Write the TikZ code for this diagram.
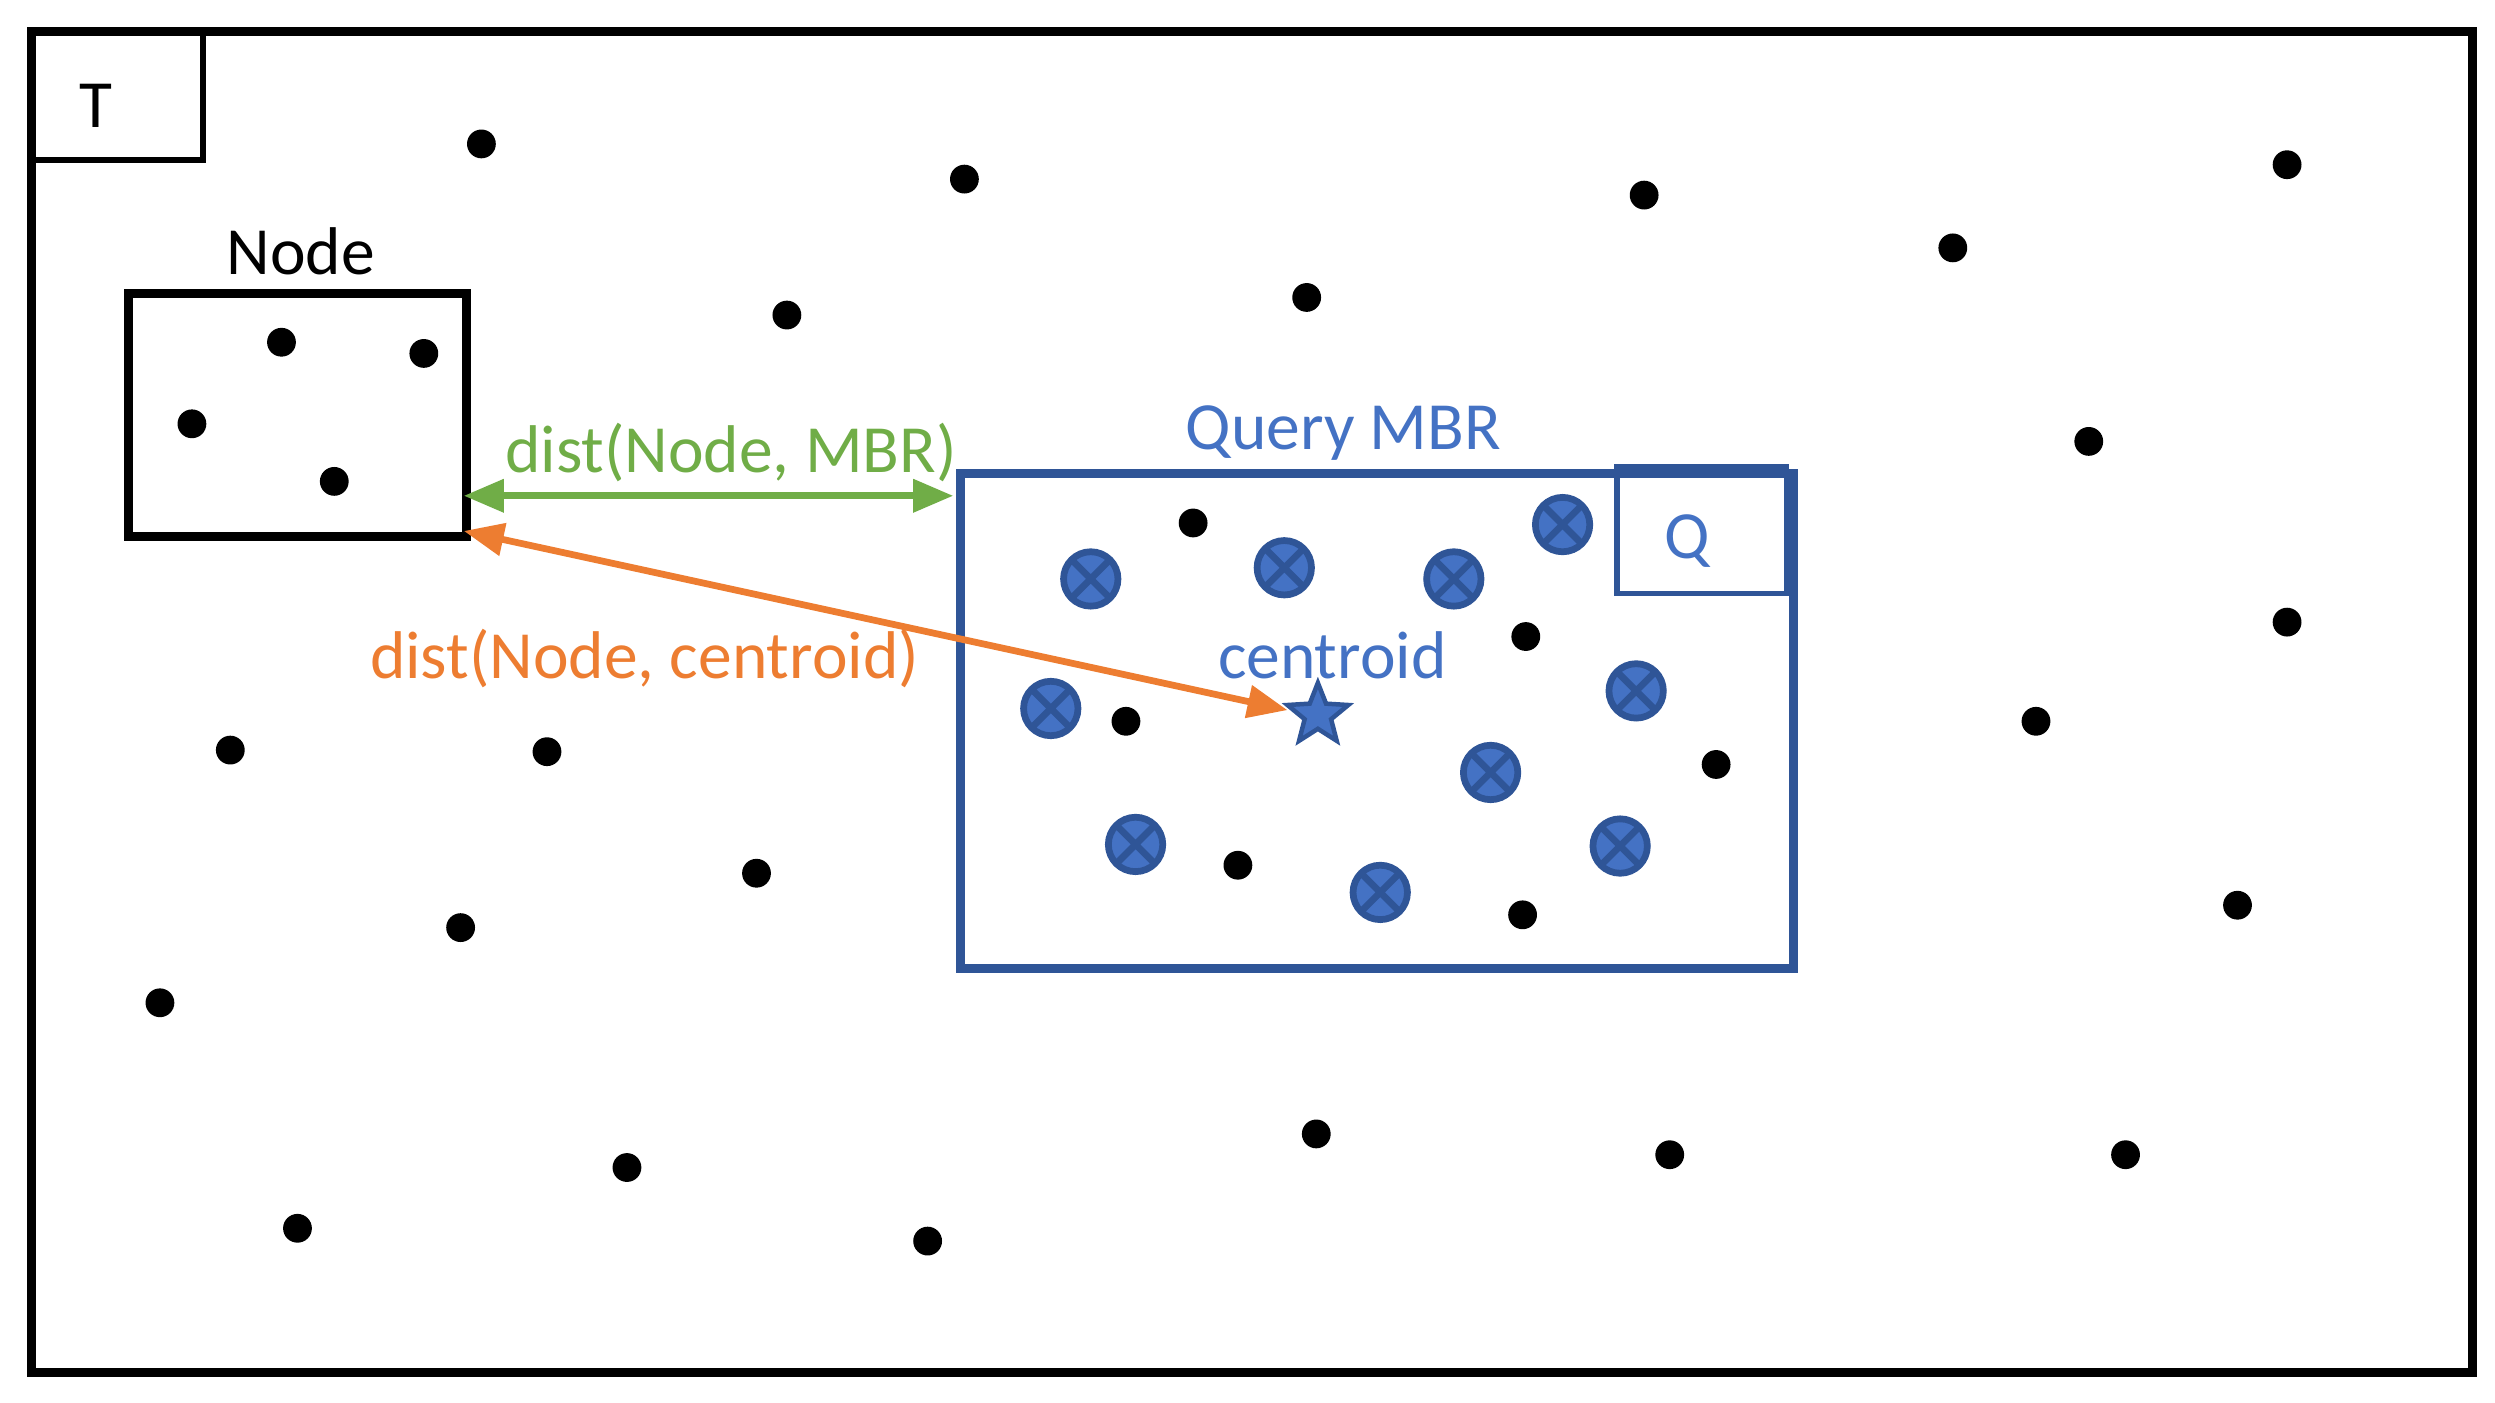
\documentclass[tikz,border=0pt]{standalone}
\usepackage{fontspec}
\setmainfont{Carlito}
\usetikzlibrary{shapes.geometric,arrows.meta}
\definecolor{qb}{HTML}{2F5597}
\definecolor{qf}{HTML}{4472C4}
\definecolor{gr}{HTML}{70AD47}
\definecolor{or}{HTML}{ED7D31}
\begin{document}
\begin{tikzpicture}[x=0.01cm,y=-0.01cm,
  dot/.style={circle,fill=black,inner sep=0,minimum size=0.18cm},
  qx/.style={circle,fill=qf,draw=qb,line width=1.2pt,inner sep=0,minimum size=0.34cm,
     path picture={\draw[qb,line width=1.2pt] (path picture bounding box.north west)--(path picture bounding box.south east) (path picture bounding box.north east)--(path picture bounding box.south west);}},
  lbl/.style={font=\fontsize{12}{14}\selectfont}]
\useasboundingbox (0,0) rectangle (1560,877);
\draw[line width=1.6pt] (20,20) rectangle (1546,858);
\draw[line width=1pt] (20,20) rectangle (127,100);
\node[lbl] (T) at (60,66) {T};
\node[draw,line width=1.6pt,minimum width=2.11cm,minimum height=1.52cm,anchor=north west,inner sep=0] (node) at (77.5,180.5) {};
\node[lbl] at (188,157) {Node};
\foreach \p in {(176,214),(265,221),(120,265),(209,301)} \node[dot] at \p {};
\node[draw=qb,line width=1.6pt,minimum width=5.21cm,minimum height=3.09cm,anchor=north west,inner sep=0] (mbr) at (597.5,293.5) {};
\node[lbl,text=qf] at (840,271) {Query MBR};
\draw[qb,line width=1pt] (1011,292) rectangle (1117,371);
\node[lbl,text=qf] (Q) at (1055,338) {Q};
\foreach \p in {(682,362),(803,355),(909,362),(977,328),(657,443),(1023,432),(932,483),(710,528),(863,558),(1013,529)} \node[qx] at \p {};
\foreach \p in {(746,327),(954,398),(704,451),(1073,478),(774,541),(952,572)} \node[dot] at \p {};
\node[star,star points=5,star point ratio=2.3,fill=qf,draw=qb,line width=0.8pt,minimum size=0.4cm,inner sep=0] (cen) at (824,447) {};
\node[lbl,text=qf] at (833,410) {centroid};
\coordinate (g1) at (290,310); \coordinate (g2) at (596,310);
\draw[gr,line width=1.2pt,{Triangle[length=0.25cm,width=0.2cm]}-{Triangle[length=0.25cm,width=0.2cm]}] (g1)--(g2);
\node[lbl,text=gr] at (457,283) {dist(Node, MBR)};
\coordinate (o1) at (290,332); \coordinate (o2) at (805,444);
\draw[or,line width=1.2pt,{Triangle[length=0.25cm,width=0.2cm]}-{Triangle[length=0.25cm,width=0.2cm]}] (o1)--(o2);
\node[lbl,text=or] at (403,412) {dist(Node, centroid)};
\foreach \p in {(301,90),(603,112),(1028,122),(1430,103),(1221,155),(492,197),(817,186),(1306,276),(1430,389),(1273,451),(144,469),(342,470),(473,546),(288,580),(100,627),(1399,566),(823,709),(1044,722),(1329,722),(392,730),(186,768),(580,776)} \node[dot] at \p {};
\end{tikzpicture}
\end{document}
